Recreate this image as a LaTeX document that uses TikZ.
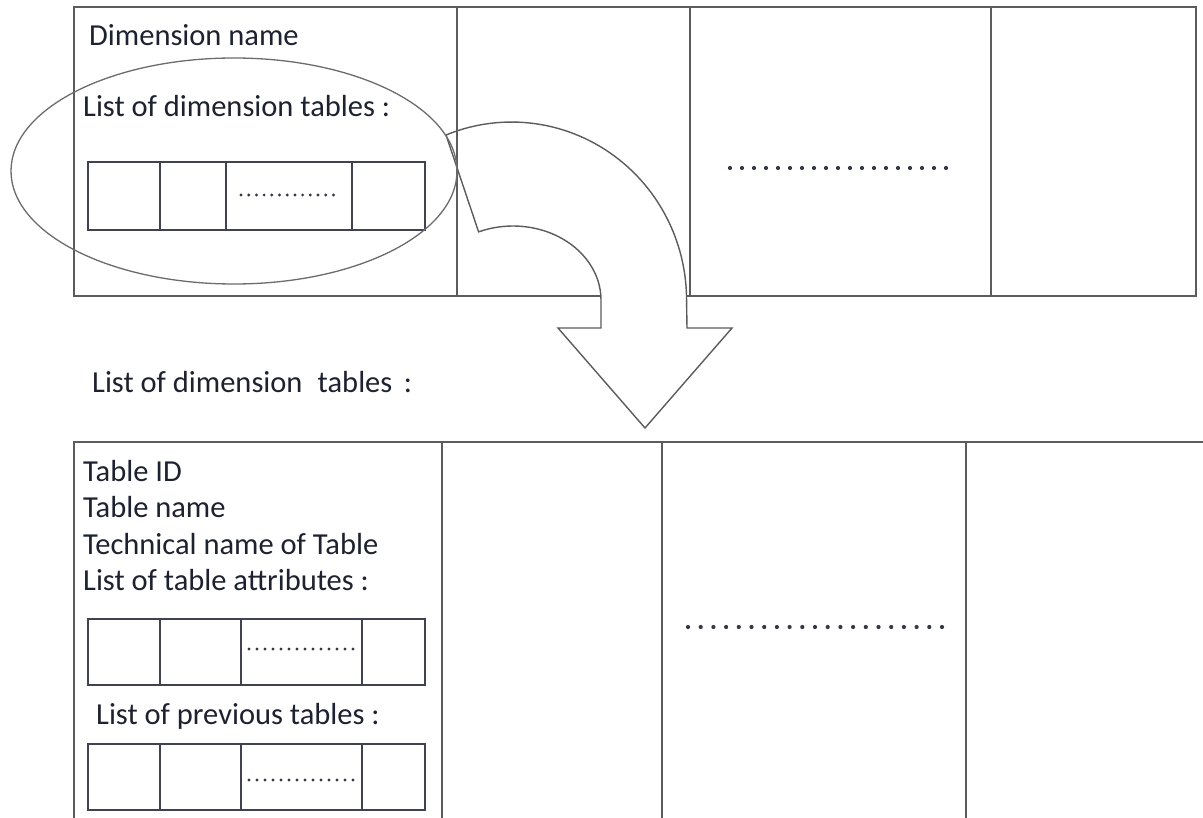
\documentclass[tikz,border=0pt]{standalone}
\usepackage{fontspec}
\setmainfont{Carlito}
\definecolor{frame}{HTML}{5C5C5C}
\definecolor{ink}{HTML}{1E2230}
\begin{document}
\begin{tikzpicture}[x=1pt,y=-1pt,
  frameline/.style={draw=frame, line width=1.6pt},
  cellline/.style={draw=ink!85, line width=1.6pt},
  ringline/.style={draw=frame!90, line width=1.3pt},
  label/.style={anchor=base west, inner sep=0pt, text=ink, font=\fontsize{30.5}{36}\selectfont},
  bigdot/.style={fill=ink!90},
  smalldot/.style={fill=ink!90}]
\useasboundingbox (0,0) rectangle (1203,818);
\fill[white] (0,0) rectangle (1203,818);

% ---------- upper table: dimensions ----------
\coordinate (dimNW) at (74,7);
\coordinate (dimSE) at (1196,296);
\draw[frameline] (dimNW) rectangle (dimSE);

% curved arrow from the dimension entry down to the table list
\draw[frameline, fill=white, line width=1.4pt]
  (446,135) arc[start angle=-112, end angle=0, x radius=175, y radius=178]
  -- (687,328) -- (732,328) -- (645,428) -- (558,328) -- (601,328) -- (601,300)
  arc[start angle=0, end angle=-113, x radius=88, y radius=74] -- cycle;

\foreach \x in {457,690,991} \draw[frameline] (\x,7) -- (\x,296);

\node[label] (dimname) at (89,46) {Dimension name};
\node[label] (dimlist) at (83,117) {List of dimension tables :};

% nested list of dimension tables
\draw[cellline] (88,162) rectangle (425,230);
\foreach \x in {160,226,352} \draw[cellline] (\x,162) -- (\x,230);
\foreach \i in {0,...,12} \fill[smalldot] (241+\i*7.7,195) circle[radius=1.6];

% ring around the list entry
\coordinate (ringc) at (234,171);
\draw[ringline] (ringc) ellipse[x radius=223, y radius=113];

% ellipsis cell
\foreach \i in {0,...,18} \fill[bigdot] (730+\i*12,168) circle[radius=2.1];

% ---------- caption between the tables ----------
\node[label] (tablist) at (92,393) {List of dimension\hspace{0.5em}tables\hspace{0.15em} :};

% ---------- lower table: dimension tables ----------
\draw[frameline] (1203,442) -- (74,442) -- (74,818);
\foreach \x in {442,662,966} \draw[frameline] (\x,442) -- (\x,818);

\node[label] (tid)   at (83,481) {Table ID};
\node[label] (tname) at (83,517) {Table name};
\node[label] (ttech) at (83,554) {Technical name of Table};
\node[label] (tattr) at (83,590) {List of table attributes :};
\node[label] (tprev) at (96,724) {List of previous tables :};

% attribute list
\draw[cellline] (88,619) rectangle (425,685);
\foreach \x in {160,241,362} \draw[cellline] (\x,619) -- (\x,685);
\foreach \i in {0,...,13} \fill[smalldot] (249+\i*8,649) circle[radius=1.6];

% previous tables list
\draw[cellline] (88,744) rectangle (425,810);
\foreach \x in {160,241,362} \draw[cellline] (\x,744) -- (\x,810);
\foreach \i in {0,...,13} \fill[smalldot] (249+\i*8,780) circle[radius=1.6];

% ellipsis cell
\foreach \i in {0,...,20} \fill[bigdot] (688+\i*12.7,627) circle[radius=2.1];
\end{tikzpicture}
\end{document}
